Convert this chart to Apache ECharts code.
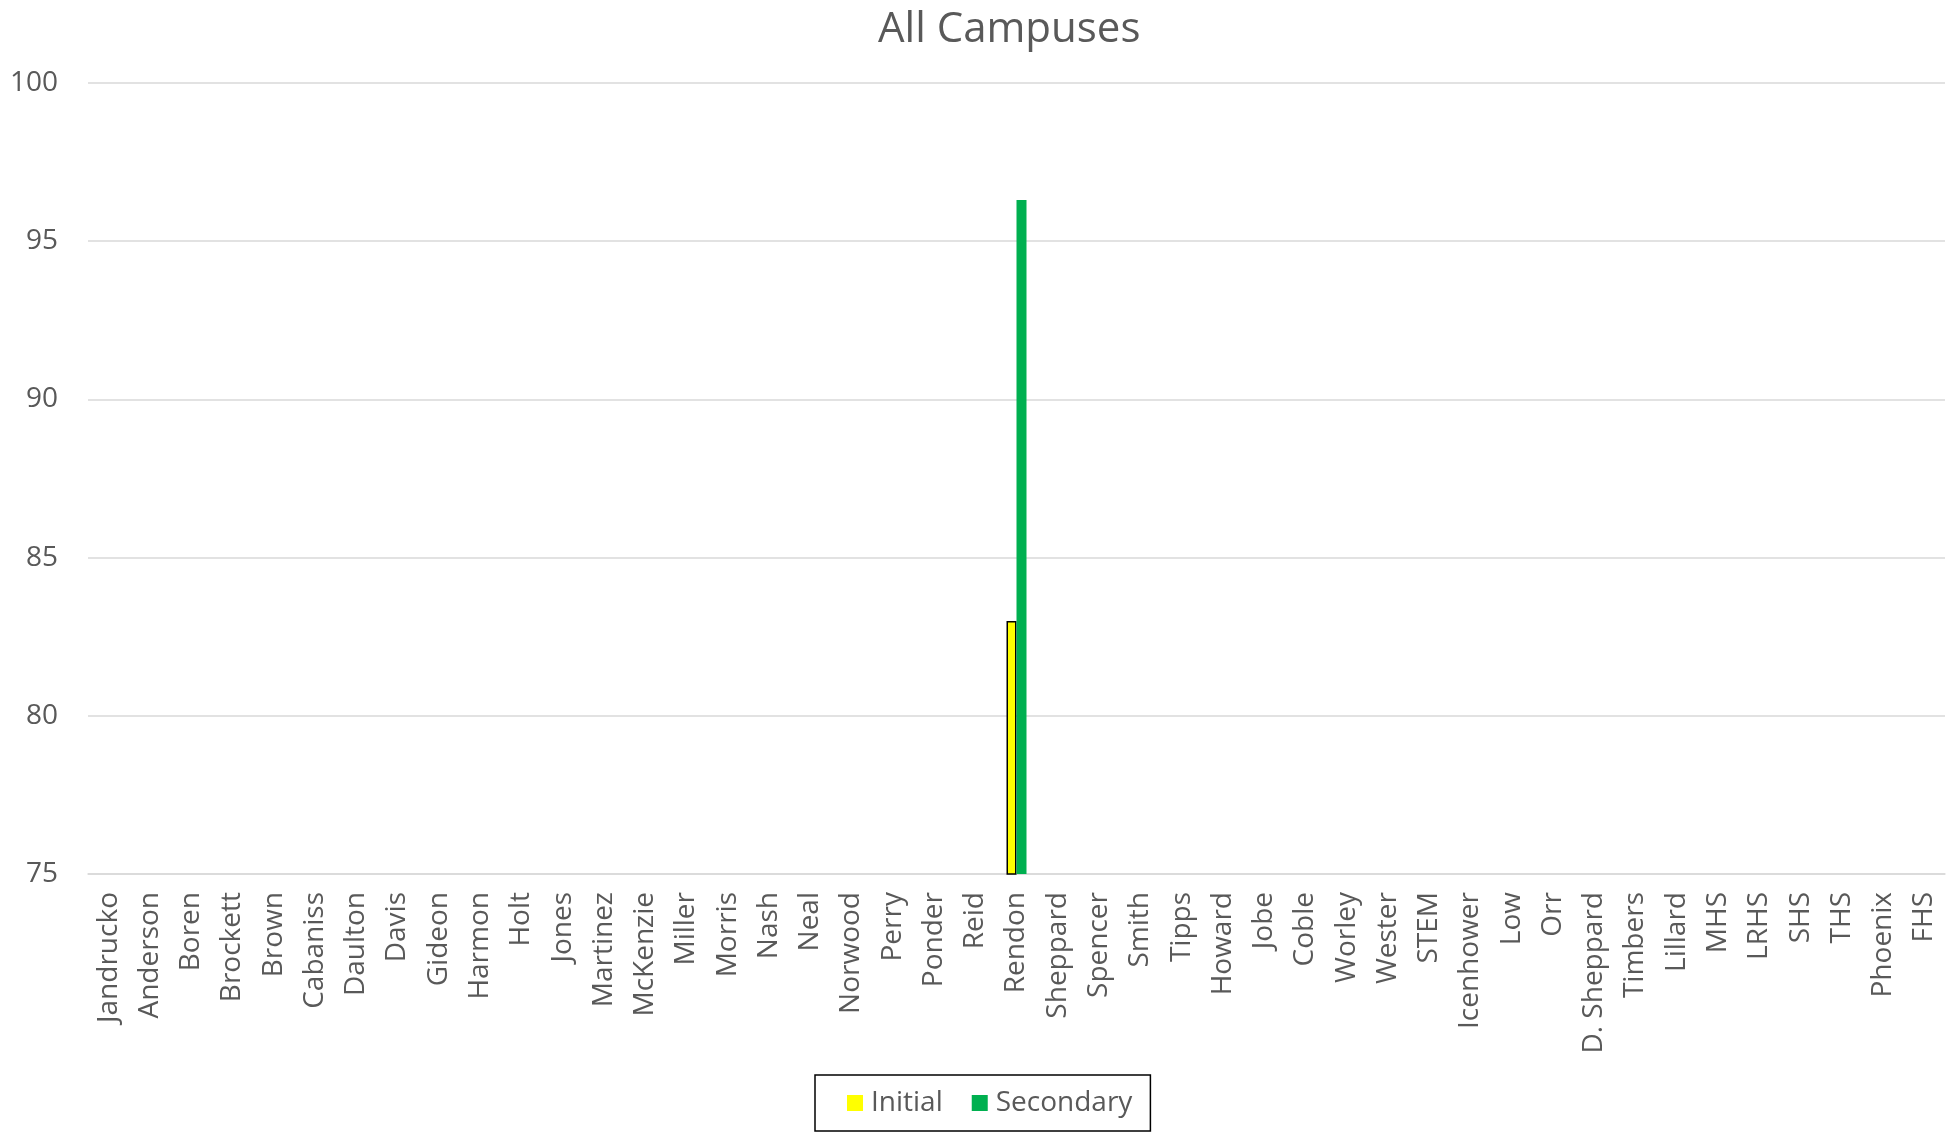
<!DOCTYPE html>
<html>
<head>
<meta charset="utf-8">
<script src="https://cdn.jsdelivr.net/npm/echarts@6/dist/echarts.min.js"></script>
<style>
html,body{margin:0;padding:0;background:#fff;}
#chart{width:1946px;height:1134px;}
</style>
</head>
<body>
<div id="chart"></div>
<script>
const categories = ["Jandrucko","Anderson","Boren","Brockett","Brown","Cabaniss","Daulton","Davis","Gideon","Harmon","Holt","Jones","Martinez","McKenzie","Miller","Morris","Nash","Neal","Norwood","Perry","Ponder","Reid","Rendon","Sheppard","Spencer","Smith","Tipps","Howard","Jobe","Coble","Worley","Wester","STEM","Icenhower","Low","Orr","D. Sheppard","Timbers","Lillard","MHS","LRHS","SHS","THS","Phoenix","FHS"];
const initialValues = [null,null,null,null,null,null,null,null,null,null,null,null,null,null,null,null,null,null,null,null,null,null,83.0,null,null,null,null,null,null,null,null,null,null,null,null,null,null,null,null,null,null,null,null,null,null];
const secondaryValues = [null,null,null,null,null,null,null,null,null,null,null,null,null,null,null,null,null,null,null,null,null,null,96.3,null,null,null,null,null,null,null,null,null,null,null,null,null,null,null,null,null,null,null,null,null,null];
const yTicks = {min: 75, max: 100, interval: 5};

const FONT = '"Open Sans", "Noto Sans", sans-serif';
const chart = echarts.init(document.getElementById('chart'), null, {renderer: 'canvas'});
chart.setOption({
  animation: false,
  backgroundColor: '#ffffff',
  title: {
    text: 'All Campuses',
    left: 873,
    top: 4,
    textStyle: {fontFamily: FONT, fontSize: 42, fontWeight: 'normal', color: '#595959'}
  },
  legend: {
    data: [
      {name: 'Initial', itemStyle: {borderWidth: 0}},
      {name: 'Secondary'}
    ],
    left: 815,
    top: 1075,
    icon: 'rect',
    itemWidth: 16,
    itemHeight: 16,
    itemGap: 29,
    padding: [14, 18, 14, 32],
    borderColor: '#000000',
    borderWidth: 1.5,
    backgroundColor: '#ffffff',
    textStyle: {fontFamily: FONT, fontSize: 28, color: '#595959', padding: [0, 0, 0, 3]}
  },
  grid: {left: 88, right: 1, top: 83, bottom: 260, containLabel: false},
  xAxis: {
    type: 'category',
    data: categories,
    axisLine: {show: true, lineStyle: {color: '#d9d9d9', width: 1.5}},
    axisTick: {show: false},
    axisLabel: {
      interval: 0,
      rotate: 90,
      margin: 18,
      fontFamily: FONT,
      fontSize: 28,
      color: '#595959'
    }
  },
  yAxis: {
    type: 'value',
    min: yTicks.min,
    max: yTicks.max,
    interval: yTicks.interval,
    axisLine: {show: false},
    axisTick: {show: false},
    splitLine: {lineStyle: {color: '#d9d9d9', width: 1.5}},
    axisLabel: {margin: 30, fontFamily: FONT, fontSize: 28, color: '#595959'}
  },
  series: [
    {
      name: 'Initial',
      type: 'bar',
      data: initialValues,
      barWidth: 10,
      barGap: '0%',
      itemStyle: {color: '#ffff00', borderColor: '#000000', borderWidth: 1.5}
    },
    {
      name: 'Secondary',
      type: 'bar',
      data: secondaryValues,
      barWidth: 10,
      barGap: '0%',
      itemStyle: {color: '#00b050'}
    }
  ]
});
</script>
</body>
</html>
